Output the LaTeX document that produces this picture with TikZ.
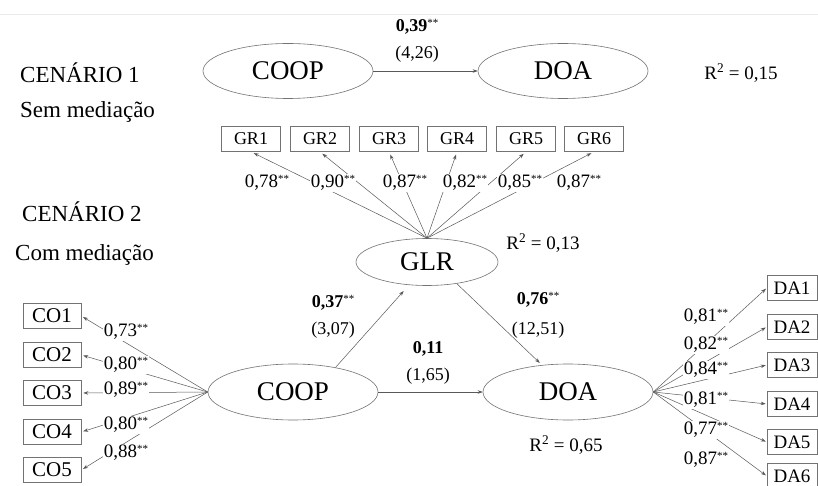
\documentclass[tikz,border=0pt]{standalone}
\usepackage{fontspec}
\setmainfont{Liberation Serif}
\usetikzlibrary{shapes.geometric,arrows.meta}
\newcommand{\myfs}[1]{\fontsize{#1}{#1}\selectfont}
\newcommand{\sg}{\raisebox{0.3em}{\myfs{11}**}}
\begin{document}
\begin{tikzpicture}[x=1pt,y=-1pt,
  lat/.style={ellipse, draw=black!55, line width=0.6pt, minimum width=170pt, minimum height=55pt, inner sep=0pt, font=\myfs{27}},
  grbox/.style={rectangle, draw=black!55, line width=0.6pt, minimum width=59pt, minimum height=25pt, inner sep=0pt, font=\myfs{18}},
  cobox/.style={rectangle, draw=black!55, line width=0.6pt, minimum width=58pt, minimum height=25pt, inner sep=0pt, font=\myfs{21}},
  dabox/.style={rectangle, draw=black!55, line width=0.6pt, minimum width=50pt, minimum height=25pt, inner sep=0pt, font=\myfs{19}},
  arr/.style={draw=black!65, line width=0.5pt, -{Stealth[length=5pt,width=3.5pt]}},
  lab/.style={fill=white, inner sep=1pt, font=\myfs{19}},
  coef/.style={inner sep=0pt, font=\myfs{18}},
  big/.style={inner sep=0pt, font=\myfs{23}},
  rsq/.style={inner sep=0pt, font=\myfs{19}}]
\useasboundingbox (0,0) rectangle (818,486);
\clip (0,0) rectangle (818,486);
\fill[white] (0,0) rectangle (818,486);
\draw[black!8, line width=0.5pt] (0,14) -- (818,14);

% Scenario 1
\node[big, anchor=west] (cen1) at (20,73) {CENÁRIO 1};
\node[big, anchor=west] (sem) at (20,112) {Sem mediação};
\node[lat] (coopA) at (288,71) {COOP};
\node[lat] (doaA) at (563,71) {DOA};
\draw[arr] (coopA.east) -- (doaA.west);
\node[coef] (bA) at (417,27) {\textbf{0,39}\sg};
\node[coef] (pA) at (417,54) {(4,26)};
\node[rsq] (r2A) at (741,73) {R\textsuperscript{2} = 0,15};

% Scenario 2
\node[big, anchor=west] (cen2) at (22,212) {CENÁRIO 2};
\node[big, anchor=west] (com) at (15,255) {Com mediação};

\node[lat, minimum width=142pt, minimum height=47pt] (glr) at (427,262) {GLR};
\node[rsq] (r2B) at (543,243) {R\textsuperscript{2} = 0,13};
\node[lat, minimum height=56pt] (coopB) at (293,392) {COOP};
\node[lat, minimum height=56pt] (doaB) at (568,392) {DOA};
\node[rsq] (r2C) at (566,445) {R\textsuperscript{2} = 0,65};

% GR indicators
\foreach \i/\x in {1/251,2/320,3/389,4/457,5/526,6/594}
  \node[grbox] (gr\i) at (\x,139) {GR\i};
\foreach \i in {1,...,6}
  \draw[arr, shorten >=3pt] (glr.north) -- (gr\i.south);
\foreach \i/\x/\v in {1/267/78,2/333/90,3/405/87,4/465/82,5/520/85,6/579/87}
  \node[lab] (lg\i) at (\x,183) {0,\v\sg};

% CO indicators
\foreach \i/\y in {1/316,2/355,3/393,4/432,5/470}
  \node[cobox] (co\i) at (52,\y) {CO\i};
\foreach \i in {1,...,5}
  \draw[arr, shorten >=2pt] (coopB.west) -- (co\i.east);
\foreach \i/\y/\v in {1/332/73,2/365/80,3/390/89,4/425/80,5/453/88}
  \node[lab] (lc\i) at (126,\y) {0,\v\sg};

% DA indicators
\foreach \i/\y in {1/288,2/327,3/365,4/404,5/442,6/476}
  \node[dabox] (da\i) at (792,\y) {DA\i};
\foreach \i in {1,...,6}
  \draw[arr, shorten >=1pt] (doaB.east) -- (da\i.west);
\foreach \i/\y/\v in {1/317/81,2/345/82,3/370/84,4/400/81,5/430/77,6/460/87}
  \node[lab] (ld\i) at (706,\y) {0,\v\sg};

% Structural paths
\draw[arr, shorten >=8pt] (coopB.30) -- (glr.232);
\draw[arr, shorten >=3pt] (glr.-36) -- (doaB.134);
\draw[arr] (coopB.east) -- (doaB.west);
\node[coef] (b1) at (333,303) {\textbf{0,37}\sg};
\node[coef] (p1) at (333,330) {(3,07)};
\node[coef] (b2) at (538,300) {\textbf{0,76}\sg};
\node[coef] (p2) at (538,330) {(12,51)};
\node[coef] (b3) at (428,349) {\textbf{0,11}};
\node[coef] (p3) at (428,376) {(1,65)};
\end{tikzpicture}
\end{document}
